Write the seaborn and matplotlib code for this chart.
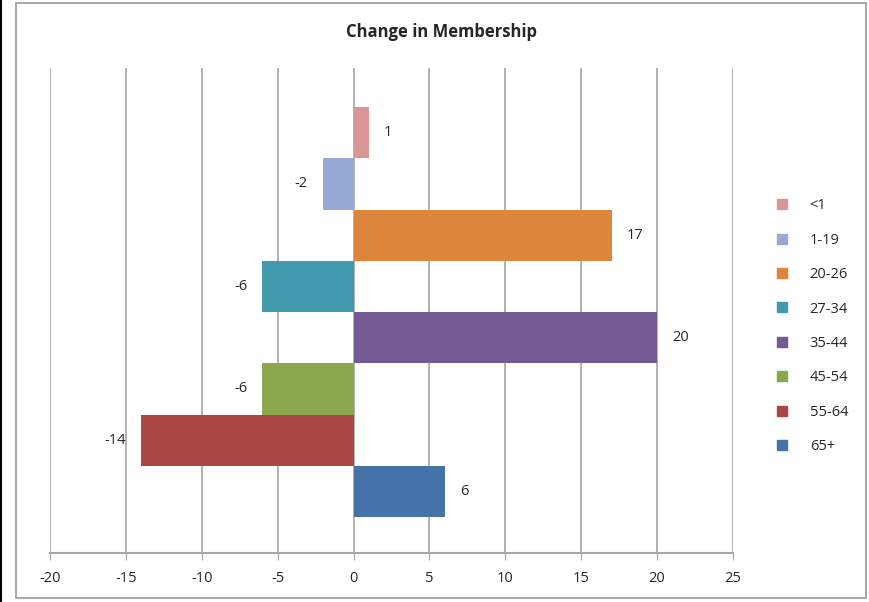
import matplotlib
matplotlib.use('Agg')
import matplotlib.pyplot as plt
import seaborn as sns
import pandas as pd
from matplotlib.patches import Rectangle
from matplotlib.lines import Line2D

groups = ['<1', '1-19', '20-26', '27-34', '35-44', '45-54', '55-64', '65+']
change = [1, -2, 17, -6, 20, -6, -14, 6]
colors = ['#D99694', '#95ABD4', '#DD843D', '#4299AE', '#735A92', '#8CA74C', '#AA4643', '#4572A7']
xticks = [-20, -15, -10, -5, 0, 5, 10, 15, 20, 25]

df = pd.DataFrame({'group': groups, 'change': change})

sns.set_style('white')
plt.rcParams['font.family'] = ['Open Sans', 'DejaVu Sans']

fig = plt.figure(figsize=(8.69, 6.02), dpi=100)
ax = fig.add_axes([50 / 869, 49 / 602, 683 / 869, 485 / 602])

sns.barplot(data=df, x='change', y='group', hue='group', palette=colors,
            orient='h', width=1.0, legend=False, ax=ax, saturation=1,
            linewidth=0)

for c in ax.containers:
    ax.bar_label(c, padding=11, fontsize=10.5)

ax.set_xlim(-20, 25)
ax.set_ylim(8.2, -1.26)
ax.set_xticks(xticks)
ax.set_xticklabels([str(t) for t in xticks], fontsize=10.5)
ax.set_yticks([])
ax.set_xlabel('')
ax.set_ylabel('')
ax.grid(axis='x', color='#A6A6A6', linewidth=1.2)
ax.set_axisbelow(True)
for s in ['top', 'right', 'left']:
    ax.spines[s].set_visible(False)
ax.spines['bottom'].set_color('#A6A6A6')
ax.spines['bottom'].set_linewidth(1.5)
ax.tick_params(axis='x', bottom=True, length=5, color='#A6A6A6', pad=8)

handles = [Line2D([0], [0], marker='s', linestyle='', markersize=7,
                  markerfacecolor=c, markeredgecolor=c) for c in colors]
fig.legend(handles, groups, loc='center left', bbox_to_anchor=(0.868, 0.458),
           frameon=False, fontsize=10.5, labelspacing=1.33, handletextpad=0.9)

fig.text(441 / 869, 1 - 32 / 602, 'Change in Membership', ha='center', va='center',
         fontsize=12, fontweight='bold')

# chart area border
fig.patches.append(Rectangle((16 / 869, 4 / 602), 850 / 869, 595 / 602,
                             transform=fig.transFigure, fill=False,
                             edgecolor='#999999', linewidth=1.2))
fig.lines.append(Line2D([1 / 869, 1 / 869], [0, 1], transform=fig.transFigure,
                        color='black', linewidth=1.5))

fig.savefig('out.png', dpi=100)
